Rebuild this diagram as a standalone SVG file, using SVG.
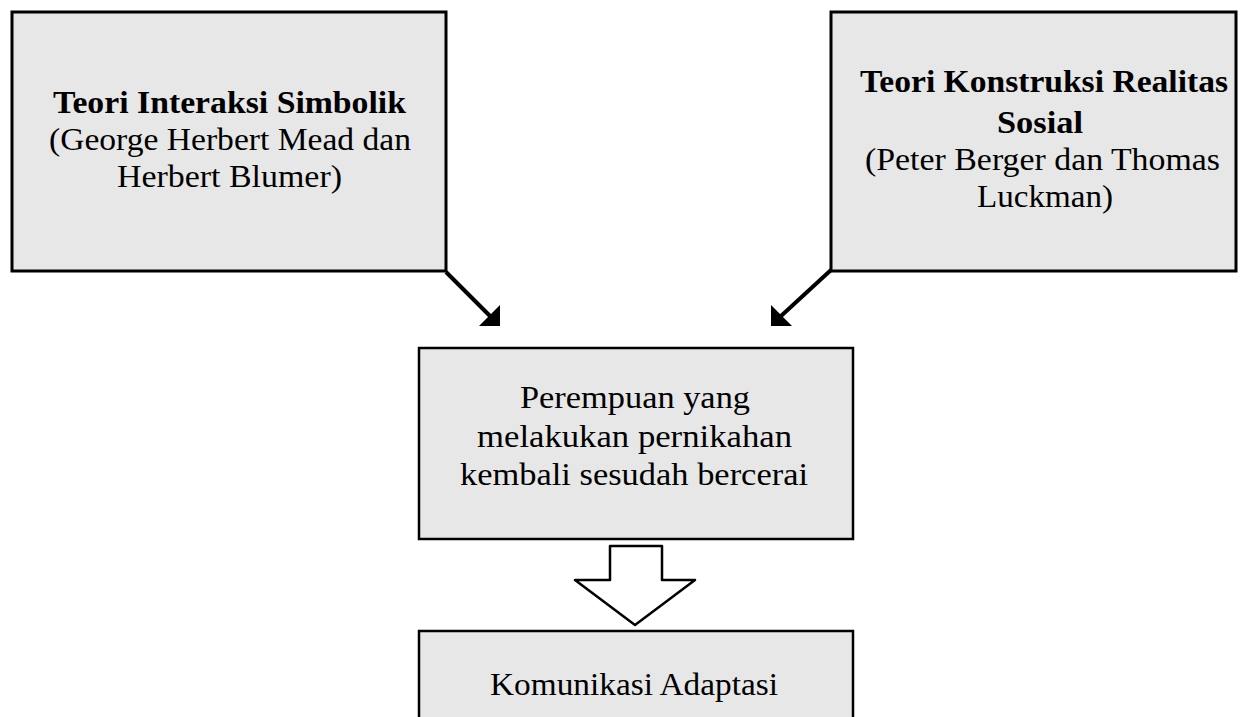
<svg xmlns="http://www.w3.org/2000/svg" width="1248" height="717" viewBox="0 0 1248 717">
<style>
.box{fill:#e7e7e7;stroke:#000;}
.t{font-family:"Liberation Serif","Times New Roman",serif;font-size:31px;fill:#000;text-anchor:middle;}
.b{font-weight:bold;}
.conn{stroke:#000;stroke-width:4;fill:none;}
</style>
<rect width="1248" height="717" fill="#fff"/>
<g id="node-simbolik">
<rect class="box" x="12" y="12" width="434" height="259" stroke-width="3"/>
<text class="t b" x="229.5" y="113" textLength="353" lengthAdjust="spacingAndGlyphs">Teori Interaksi Simbolik</text>
<text class="t" x="230" y="150" textLength="362" lengthAdjust="spacingAndGlyphs">(George Herbert Mead dan</text>
<text class="t" x="229.5" y="187" textLength="225" lengthAdjust="spacingAndGlyphs">Herbert Blumer)</text>
</g>
<g id="node-konstruksi">
<rect class="box" x="831" y="12" width="405" height="259" stroke-width="3"/>
<text class="t b" x="1044" y="92" textLength="368" lengthAdjust="spacingAndGlyphs">Teori Konstruksi Realitas</text>
<text class="t b" x="1040" y="133" textLength="86" lengthAdjust="spacingAndGlyphs">Sosial</text>
<text class="t" x="1042.5" y="170" textLength="355" lengthAdjust="spacingAndGlyphs">(Peter Berger dan Thomas</text>
<text class="t" x="1045" y="207" textLength="136" lengthAdjust="spacingAndGlyphs">Luckman)</text>
</g>
<g id="node-perempuan">
<rect class="box" x="419" y="348" width="434" height="191" stroke-width="2.5"/>
<text class="t" x="635" y="408" textLength="230" lengthAdjust="spacingAndGlyphs">Perempuan yang</text>
<text class="t" x="634.5" y="447" textLength="315" lengthAdjust="spacingAndGlyphs">melakukan pernikahan</text>
<text class="t" x="634" y="485" textLength="348" lengthAdjust="spacingAndGlyphs">kembali sesudah bercerai</text>
</g>
<g id="node-komunikasi">
<path class="box" d="M419,720 L419,631 L853,631 L853,720" stroke-width="2.5"/>
<text class="t" x="634" y="695" textLength="288" lengthAdjust="spacingAndGlyphs">Komunikasi Adaptasi</text>
</g>
<g id="connectors">
<line class="conn" x1="446" y1="272" x2="490" y2="316"/>
<polygon points="479,326 500,326 500,305" fill="#000"/>
<line class="conn" x1="831" y1="270" x2="781" y2="316"/>
<polygon points="771,326 792,326 771,305" fill="#000"/>
<path d="M610,546 L662,546 L662,580 L695,580 L635,625 L575,580 L610,580 Z" fill="#fff" stroke="#000" stroke-width="2.5" stroke-linejoin="round"/>
</g>
</svg>
